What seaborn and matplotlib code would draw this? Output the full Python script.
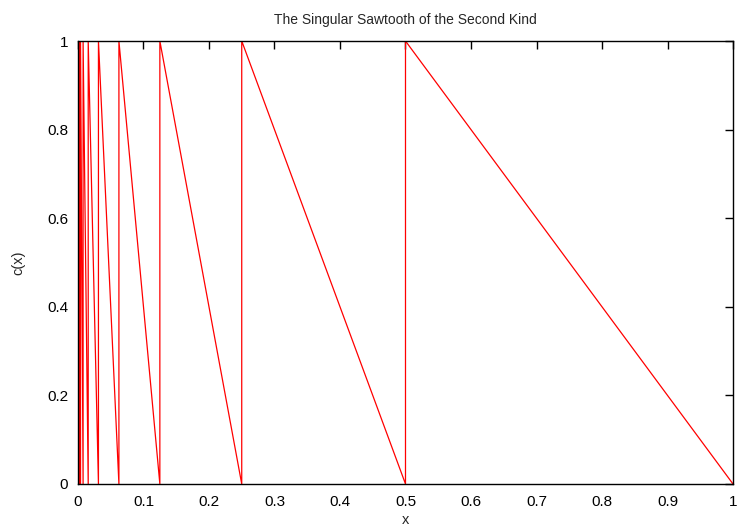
import matplotlib
matplotlib.use("Agg")
import matplotlib.pyplot as plt
import seaborn as sns
import pandas as pd

# Sawtooth vertices (x, c(x)), traced from right to left
x_vals = [1.0, 0.5, 0.5, 0.25, 0.25, 0.125, 0.125, 0.0625, 0.0625,
          0.03125, 0.03125, 0.015625, 0.015625, 0.0078125, 0.0078125,
          0.00390625, 0.00390625, 0.001953125, 0.001953125,
          0.0009765625, 0.0009765625, 0.00048828125, 0.00048828125,
          0.000244140625, 0.000244140625, 0.0]
y_vals = [0, 1, 0, 1, 0, 1, 0, 1, 0, 1, 0, 1, 0, 1, 0, 1, 0, 1, 0, 1, 0, 1, 0, 1, 0, 1]
x_ticks = [0, 0.1, 0.2, 0.3, 0.4, 0.5, 0.6, 0.7, 0.8, 0.9, 1]
x_tick_labels = ["0", "0.1", "0.2", "0.3", "0.4", "0.5", "0.6", "0.7", "0.8", "0.9", "1"]
y_ticks = [0, 0.2, 0.4, 0.6, 0.8, 1]
y_tick_labels = ["0", "0.2", "0.4", "0.6", "0.8", "1"]

df = pd.DataFrame({"x": x_vals, "c": y_vals})

sns.set_style("white")
plt.rcParams["font.family"] = ["Liberation Sans", "DejaVu Sans"]

fig = plt.figure(figsize=(7.37, 5.27), dpi=100)
ax = fig.add_axes([0.1058, 0.0816, 0.8888, 0.8406])
sns.lineplot(data=df, x="x", y="c", sort=False, estimator=None,
             color="red", linewidth=0.9, ax=ax)

ax.set_xlim(0, 1)
ax.set_ylim(0, 1)
ax.set_xticks(x_ticks)
ax.set_xticklabels(x_tick_labels)
ax.set_yticks(y_ticks)
ax.set_yticklabels(y_tick_labels)
ax.tick_params(direction="in", length=6, width=1, color="black",
               top=True, right=True, labelsize=11, labelcolor="black")
ax.tick_params(axis="x", pad=8)
ax.tick_params(axis="y", pad=7)
for s in ax.spines.values():
    s.set_color("black")
    s.set_linewidth(1)
    s.set_visible(True)
ax.set_xlabel("x", fontsize=10.5, labelpad=3)
ax.set_ylabel("c(x)", fontsize=10.5, labelpad=16)
ax.set_title("The Singular Sawtooth of the Second Kind", fontsize=10, pad=12)

fig.savefig("out.png", dpi=100)
